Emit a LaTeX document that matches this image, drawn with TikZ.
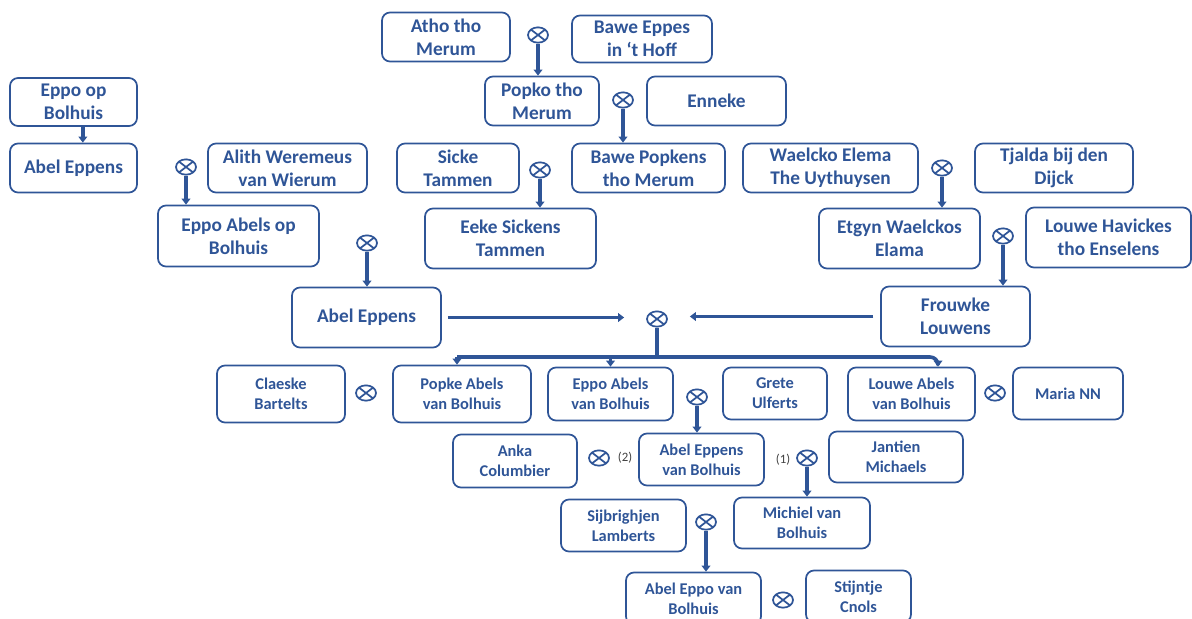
\documentclass[tikz,border=0pt]{standalone}
\usepackage{fontspec}
\setmainfont{Carlito}
\usetikzlibrary{shapes.geometric,arrows.meta}
\definecolor{famblue}{RGB}{47,85,151}
\tikzset{
    sz/.style 2 args={minimum width=#1*0.75pt, minimum height=#2*0.75pt},
    person/.style={draw=famblue, line width=1.3pt, rounded corners=6pt, text=famblue,
        align=center, inner sep=2pt, font=\bfseries\fontsize{14.5}{17.3}\selectfont},
    kid/.style={person, font=\bfseries\fontsize{12.3}{15}\selectfont},
    wed/.style={ellipse, draw=famblue, line width=1.3pt, minimum width=15pt,
        minimum height=11.5pt, inner sep=0pt,
        path picture={\draw[famblue, line width=1.3pt]
            (path picture bounding box.south west) -- (path picture bounding box.north east)
            (path picture bounding box.north west) -- (path picture bounding box.south east);}},
    stem/.style={famblue, line width=2.7pt, -{Triangle[width=6.5pt,length=4.5pt]}},
    note/.style={text=black!75, font=\fontsize{9.6}{11}\selectfont}
}
\begin{document}
\begin{tikzpicture}[x=0.75pt,y=-0.75pt]
    \clip (0,0) rectangle (1192,618);
    \node[person,sz={127}{48}] (eppoOp) at (73.5,102) {Eppo op\\Bolhuis};
    \node[person,sz={127}{49}] (abelA) at (73.5,168) {Abel Eppens};
    \node[person,sz={159}{49}] (alith) at (287.5,168) {Alith Weremeus\\van Wierum};
    \node[person,sz={161}{61}] (eppoAbels) at (238.5,236) {Eppo Abels op\\Bolhuis};
    \node[person,sz={128}{49}] (atho) at (446,37) {Atho tho\\Merum};
    \node[person,sz={140}{47}] (baweE) at (642,39) {Bawe Eppes\\in ‘t Hoff};
    \node[person,sz={114}{49}] (popko) at (542,101) {Popko tho\\Merum};
    \node[person,sz={139}{49}] (enneke) at (716.5,101) {Enneke};
    \node[person,sz={122}{49}] (sicke) at (458,168) {Sicke\\Tammen};
    \node[person,sz={153}{49}] (baweP) at (648.5,168) {Bawe Popkens\\tho Merum};
    \node[person,sz={171}{60}] (eeke) at (510.5,238.5) {Eeke Sickens\\Tammen};
    \node[person,sz={175}{49}] (waelcko) at (830.5,168) {Waelcko Elema\\The Uythuysen};
    \node[person,sz={158}{49}] (tjalda) at (1054,168) {Tjalda bij den\\Dijck};
    \node[person,sz={161}{60}] (etgyn) at (899.5,238.5) {Etgyn Waelckos\\Elama};
    \node[person,sz={165}{60}] (louweH) at (1108.5,237.5) {Louwe Havickes\\tho Enselens};
    \node[person,sz={149}{60}] (abelM) at (366.5,317.5) {Abel Eppens};
    \node[person,sz={149}{60}] (frouwke) at (955.5,316.5) {Frouwke\\Louwens};
    \node[kid,sz={128}{57}] (claeske) at (281,394) {Claeske\\Bartelts};
    \node[kid,sz={138}{57}] (popke) at (462,394) {Popke Abels\\van Bolhuis};
    \node[kid,sz={125}{53}] (eppoV) at (610.5,394) {Eppo Abels\\van Bolhuis};
    \node[kid,sz={104}{52}] (grete) at (775,393.5) {Grete\\Ulferts};
    \node[kid,sz={127}{53}] (louweA) at (911.5,394) {Louwe Abels\\van Bolhuis};
    \node[kid,sz={110}{52}] (maria) at (1068,393.5) {Maria NN};
    \node[kid,sz={124}{53}] (anka) at (515,461) {Anka\\Columbier};
    \node[kid,sz={125}{52}] (abelV) at (701.5,459.5) {Abel Eppens\\van Bolhuis};
    \node[kid,sz={134}{51}] (jantien) at (896,457) {Jantien\\Michaels};
    \node[kid,sz={125}{52}] (sijb) at (623.5,525.5) {Sijbrighjen\\Lamberts};
    \node[kid,sz={136}{51}] (michiel) at (802,523) {Michiel van\\Bolhuis};
    \node[kid,sz={135}{52}] (abelEppo) at (693.5,598.5) {Abel Eppo van\\Bolhuis};
    \node[kid,sz={105}{52}] (stijntje) at (858.5,596.5) {Stijntje\\Cnols};
    \node[wed] (m0) at (657,319) {};
    \node[wed] (m1) at (538,35) {};
    \node[wed] (m2) at (623,100) {};
    \node[wed] (m3) at (540,170) {};
    \node[wed] (m4) at (186,167) {};
    \node[wed] (m5) at (367,243) {};
    \node[wed] (m6) at (942,168) {};
    \node[wed] (m7) at (1003,236) {};
    \node[wed] (m8) at (366,393) {};
    \node[wed] (m9) at (697,397) {};
    \node[wed] (m10) at (995,393) {};
    \node[wed] (m11) at (599,458) {};
    \node[wed] (m12) at (807,458) {};
    \node[wed] (m13) at (706,522) {};
    \node[wed] (m14) at (783,600) {};
    \node[note] (n2) at (625,458) {(2)};
    \node[note] (n1) at (783,460) {(1)};
    \draw[stem] ([xshift=7pt]eppoOp.south) -- ([xshift=7pt]abelA.north);
    \foreach \m/\c in {m1/popko,m2/baweP,m3/eeke,m4/eppoAbels,m5/abelM,m6/etgyn,
        m7/frouwke,m9/abelV,m12/michiel,m13/abelEppo}
        \draw[stem] (\m.south) -- (\m.south |- \c.north);
    \draw[stem,shorten <=4.5pt,shorten >=16.5pt] (abelM.east) -- (abelM.east -| m0.west);
    \draw[stem,shorten <=5pt,shorten >=16.5pt] (frouwke.west) -- (frouwke.west -| m0.east);
    \coordinate (busL) at (457,357);
    \coordinate (busR) at (938,357);
    \draw[stem,-] (m0.south) -- (m0.south |- busL);
    \draw[stem,rounded corners=6pt] (busL) -- (busR) -- (busR |- louweA.north);
    \draw[stem] (busL) -- (busL |- popke.north);
    \draw[stem] (eppoV.north |- busL) -- (eppoV.north);
\end{tikzpicture}
\end{document}
